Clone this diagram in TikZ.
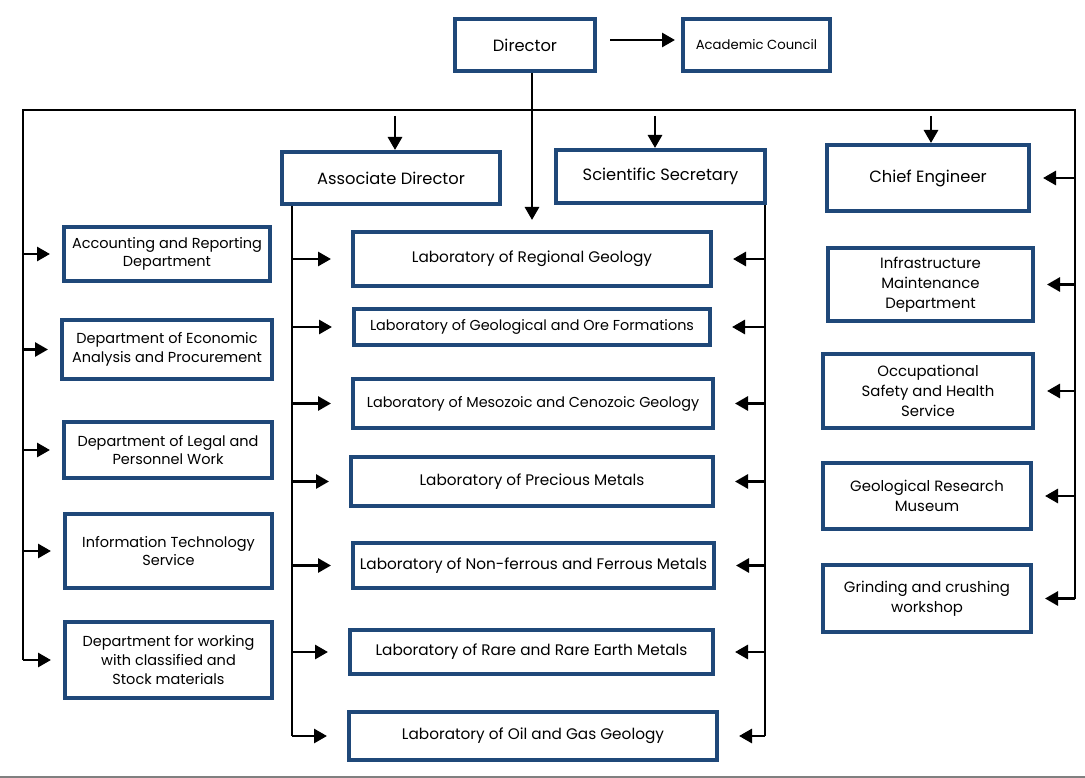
\documentclass[tikz,border=0pt]{standalone}
\usepackage{fontspec}
\setmainfont{Poppins}
\usetikzlibrary{arrows.meta,calc}
\definecolor{boxblue}{RGB}{31,72,121}
\begin{document}
\begin{tikzpicture}[x=1pt,y=-1pt,
  box/.style={draw=boxblue,line width=4pt,fill=white,align=center,inner sep=1pt,
    font=\fontsize{14.9}{20}\selectfont},
  top/.style={font=\fontsize{16.3}{20}\selectfont},
  small/.style={font=\fontsize{13.2}{16}\selectfont},
  lab/.style={font=\fontsize{15.3}{19}\selectfont},
  labs/.style={font=\fontsize{14.4}{19}\selectfont},
  left/.style={font=\fontsize{14.5}{18.6}\selectfont},
  conn/.style={line width=2.8pt,black},
  arr/.style={conn,-{Triangle[length=13pt,width=14pt]}},
]
\useasboundingbox (0,0) rectangle (1085,778);
% top
\node[box,top,minimum width=140,minimum height=52] (dir) at (525,45) {Director};
\node[box,small,minimum width=147,minimum height=52] (ac) at (756.5,45) {Academic Council};
% second row
\node[box,top,minimum width=218,minimum height=52] (ad) at (391,178) {Associate Director};
\node[box,top,minimum width=209,minimum height=53] (ss) at (660.5,176.5) {Scientific Secretary};
\node[box,top,minimum width=202,minimum height=66] (ce) at (928,178) {Chief Engineer};
% right column
\node[box,minimum width=205,minimum height=73] (im) at (930.5,284.5) {Infrastructure\\Maintenance\\Department};
\node[box,minimum width=210,minimum height=74] (os) at (928,391) {Occupational\\Safety and Health\\Service};
\node[box,minimum width=208,minimum height=66] (gm) at (927,496) {Geological Research\\Museum};
\node[box,minimum width=208,minimum height=67] (gc) at (927,598.5) {Grinding and crushing\\workshop};
% labs
\node[box,lab,minimum width=358,minimum height=54] (l1) at (532,259) {Laboratory of Regional Geology};
\node[box,labs,minimum width=356,minimum height=36] (l2) at (532,327) {Laboratory of Geological and Ore Formations};
\node[box,labs,minimum width=360,minimum height=49] (l3) at (533,403.5) {Laboratory of Mesozoic and Cenozoic Geology};
\node[box,lab,minimum width=362,minimum height=49] (l4) at (532,481.5) {Laboratory of Precious Metals};
\node[box,lab,minimum width=361,minimum height=45] (l5) at (533.5,565.5) {Laboratory of Non-ferrous and Ferrous Metals};
\node[box,lab,minimum width=363,minimum height=44] (l6) at (531.5,652) {Laboratory of Rare and Rare Earth Metals};
\node[box,lab,minimum width=368,minimum height=48] (l7) at (533,736) {Laboratory of Oil and Gas Geology};
% left column
\node[box,left,minimum width=206,minimum height=54] (a1) at (167,254) {Accounting and Reporting\\Department};
\node[box,left,minimum width=210,minimum height=59] (a2) at (167,349.5) {Department of Economic\\Analysis and Procurement};
\node[box,left,minimum width=208,minimum height=56] (a3) at (168,450) {Department of Legal and\\Personnel Work};
\node[box,left,minimum width=207,minimum height=74] (a4) at (168.5,551) {Information Technology\\Service};
\node[box,left,minimum width=207,minimum height=76] (a5) at (168.5,660) {Department for working\\with classified and\\Stock materials};
% coordinates
\coordinate (busL) at (23,110);
\coordinate (busR) at (1075,110);
\coordinate (adx) at (292,0);
\coordinate (ssx) at (765,0);
\coordinate (adin) at ($(ad.north)+(4,0)$);
\coordinate (ssin) at ($(ss.north)+(-5.5,0)$);
\coordinate (cein) at ($(ce.north)+(3,0)$);
\coordinate (dirout) at ($(dir.east)+(0,-5)$);
\coordinate (acin) at ($(ac.west)+(0,-5)$);
% connectors
\draw[arr,shorten <=13pt,shorten >=6pt] (dirout) -- (acin);
\draw[arr,shorten >=10pt] (l1.north |- dir.south) -- (l1.north);
\draw[conn] (busL |- a5.west) -- (busL) -- (busR) -- (busR |- gc.east);
\draw[arr,shorten <=6pt] (adin |- busL) -- (adin);
\draw[arr,shorten <=6pt] (ssin |- busL) -- (ssin);
\draw[arr,shorten <=6pt] (cein |- busL) -- (cein);
\foreach \n in {a1,a2,a3,a4,a5}{
  \draw[arr,shorten >=12pt] (busL |- \n.west) -- (\n.west);
}
\foreach \n in {ce,im,os,gm,gc}{
  \draw[arr,shorten >=12pt] (busR |- \n.east) -- (\n.east);
}
\draw[conn] (adx |- ad.south) -- (adx |- l7.west);
\draw[conn] (ssx |- ss.south) -- (ssx |- l7.east);
\foreach \n in {l1,l2,l3,l4,l5,l6,l7}{
  \draw[arr,shorten >=20pt] (adx |- \n.west) -- (\n.west);
  \draw[arr,shorten >=20pt] (ssx |- \n.east) -- (\n.east);
}
\draw[gray,line width=2pt] (0,777) -- (1085,777);
\end{tikzpicture}
\end{document}
